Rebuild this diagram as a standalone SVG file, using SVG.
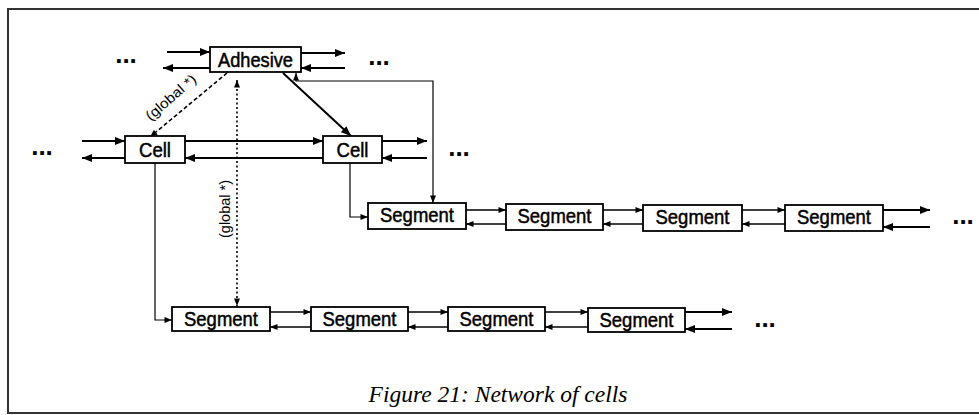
<svg xmlns="http://www.w3.org/2000/svg" width="979" height="415" viewBox="0 0 979 415">
<defs>
<marker id="ah" viewBox="0 0 10 8" refX="10" refY="4" markerWidth="11" markerHeight="8" markerUnits="userSpaceOnUse" orient="auto">
<path d="M0,0 L10,4 L0,8 Z" fill="#000"/>
</marker>
<marker id="ahs" viewBox="0 0 10 8" refX="10" refY="4" markerWidth="8" markerHeight="6" markerUnits="userSpaceOnUse" orient="auto">
<path d="M0,0 L10,4 L0,8 Z" fill="#000"/>
</marker>
<marker id="ahstart" viewBox="0 0 10 8" refX="0" refY="4" markerWidth="8" markerHeight="6" markerUnits="userSpaceOnUse" orient="auto">
<path d="M10,0 L0,4 L10,8 Z" fill="#000"/>
</marker>
</defs>
<style>
.box{fill:#fff;stroke:#000;stroke-width:1.8}
.lbl{font-family:"Liberation Sans Narrow","Liberation Sans",Arial,sans-serif;font-weight:normal;font-size:21px;fill:#000;stroke:#000;stroke-width:0.5;text-anchor:middle}
.dots{font-family:"Liberation Sans",Arial,sans-serif;font-weight:bold;font-size:26px;fill:#000;text-anchor:middle}
.note{font-family:"Liberation Sans Narrow","Liberation Sans",Arial,sans-serif;font-size:14px;fill:#000;text-anchor:middle}
.thick{fill:none;stroke:#000;stroke-width:2;marker-end:url(#ah)}
.mid{fill:none;stroke:#000;stroke-width:1.6;marker-end:url(#ahs)}
.thin{fill:none;stroke:#000;stroke-width:1.2;marker-end:url(#ahs)}
.cap{font-family:"Liberation Serif","Times New Roman",serif;font-style:italic;font-size:23.5px;fill:#000;text-anchor:middle}
</style>
<rect width="979" height="415" fill="#fff"/>
<path d="M979,9 H8 V413 H979" fill="none" stroke="#333" stroke-width="2"/>

<g id="connectors">
<path class="thick" d="M167,52 H210"/>
<path class="thick" d="M210,68 H163"/>
<path class="thick" d="M301,53 H345"/>
<path class="thick" d="M345,68 H301"/>
<path class="thick" d="M82,141 H125"/>
<path class="thick" d="M125,158 H82"/>
<path class="thick" d="M185,141 H323"/>
<path class="thick" d="M323,158 H185"/>
<path class="thick" d="M382,141 H427"/>
<path class="thick" d="M427,158 H382"/>
<path class="mid" d="M227,73 L150,137" stroke-dasharray="4,2.5"/>
<path class="thick" d="M283,73 L351,136"/>
<path class="mid" d="M237,80 V306" stroke-dasharray="2,2.5" marker-start="url(#ahstart)"/>
<path class="thin" d="M296,73 V81 H433 V203" marker-start="url(#ahstart)"/>
<path class="thin" d="M350,163 V217 H368"/>
<path class="thin" d="M155,163 V320 H172"/>
<path class="mid" d="M466,210 H506"/>
<path class="mid" d="M506,224 H466"/>
<path class="mid" d="M603,210 H643"/>
<path class="mid" d="M643,224 H603"/>
<path class="mid" d="M742,210 H785"/>
<path class="mid" d="M785,224 H742"/>
<path class="thick" d="M883,210 H930"/>
<path class="thick" d="M930,227 H883"/>
<path class="mid" d="M270,312 H311"/>
<path class="mid" d="M311,327 H270"/>
<path class="mid" d="M408,312 H448"/>
<path class="mid" d="M448,327 H408"/>
<path class="mid" d="M545,312 H588"/>
<path class="mid" d="M588,327 H545"/>
<path class="thick" d="M685,312 H732"/>
<path class="thick" d="M732,329 H685"/>
</g>

<text class="note" transform="translate(174,101) rotate(-41)" textLength="62" lengthAdjust="spacingAndGlyphs">(global *)</text>
<text class="note" transform="translate(230,209) rotate(-90)" textLength="58" lengthAdjust="spacingAndGlyphs">(global *)</text>

<g id="adhesive"><rect class="box" x="210" y="47" width="91" height="25"/><text class="lbl" x="255.5" y="67" textLength="75" lengthAdjust="spacingAndGlyphs">Adhesive</text></g>
<g id="cell1"><rect class="box" x="125" y="136" width="60" height="27"/><text class="lbl" x="155" y="157" textLength="32" lengthAdjust="spacingAndGlyphs">Cell</text></g>
<g id="cell2"><rect class="box" x="323" y="136" width="59" height="27"/><text class="lbl" x="352.5" y="157" textLength="32" lengthAdjust="spacingAndGlyphs">Cell</text></g>

<g id="seg-t1"><rect class="box" x="368" y="203" width="98" height="26"/><text class="lbl" x="417" y="222" textLength="74" lengthAdjust="spacingAndGlyphs">Segment</text></g>
<g id="seg-t2"><rect class="box" x="506" y="204" width="97" height="26"/><text class="lbl" x="554.5" y="223" textLength="74" lengthAdjust="spacingAndGlyphs">Segment</text></g>
<g id="seg-t3"><rect class="box" x="643" y="205" width="99" height="26"/><text class="lbl" x="692.5" y="224" textLength="74" lengthAdjust="spacingAndGlyphs">Segment</text></g>
<g id="seg-t4"><rect class="box" x="785" y="205" width="98" height="26"/><text class="lbl" x="834" y="224" textLength="74" lengthAdjust="spacingAndGlyphs">Segment</text></g>

<g id="seg-b1"><rect class="box" x="172" y="307" width="98" height="24"/><text class="lbl" x="221" y="326" textLength="74" lengthAdjust="spacingAndGlyphs">Segment</text></g>
<g id="seg-b2"><rect class="box" x="311" y="307" width="97" height="24"/><text class="lbl" x="359.5" y="326" textLength="74" lengthAdjust="spacingAndGlyphs">Segment</text></g>
<g id="seg-b3"><rect class="box" x="448" y="307" width="97" height="24"/><text class="lbl" x="496.5" y="326" textLength="74" lengthAdjust="spacingAndGlyphs">Segment</text></g>
<g id="seg-b4"><rect class="box" x="588" y="308" width="97" height="24"/><text class="lbl" x="636.5" y="327" textLength="74" lengthAdjust="spacingAndGlyphs">Segment</text></g>

<text class="dots" x="126" y="63">...</text>
<text class="dots" x="379" y="65">...</text>
<text class="dots" x="42" y="155">...</text>
<text class="dots" x="459" y="156">...</text>
<text class="dots" x="963" y="224">...</text>
<text class="dots" x="765" y="327">...</text>

<text class="cap" x="498" y="402">Figure 21: Network of cells</text>
</svg>
